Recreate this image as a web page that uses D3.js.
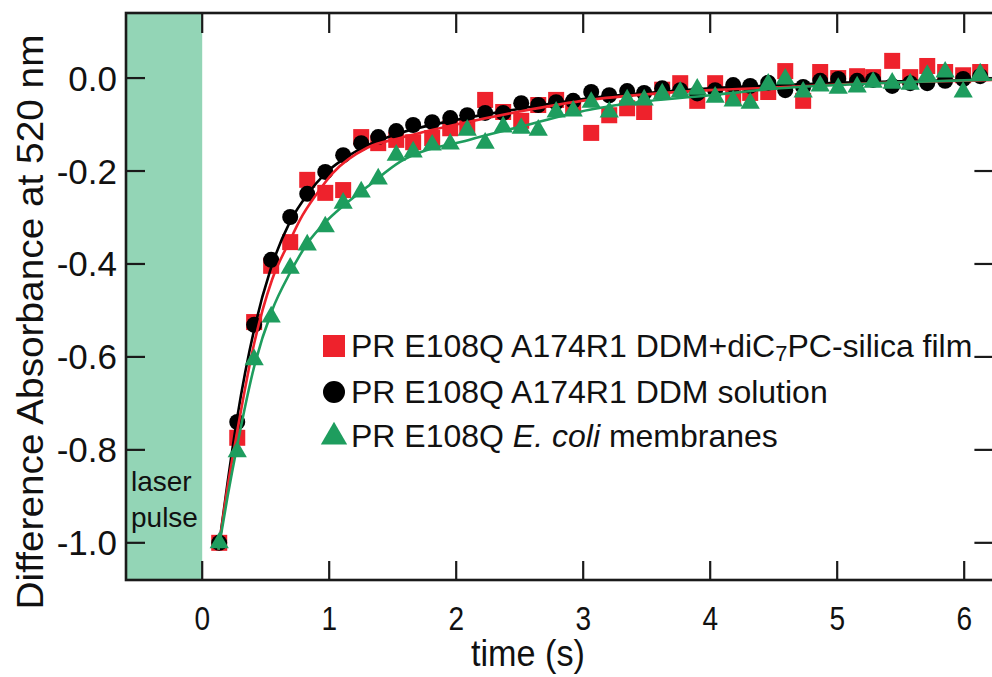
<!DOCTYPE html>
<html><head><meta charset="utf-8">
<script src="https://cdn.jsdelivr.net/npm/d3@7"></script>
<style>html,body{margin:0;padding:0;background:#fff;}svg{display:block;}</style>
</head><body>
<svg id="chart" width="992" height="677"></svg>
<script>
// ---- data ----
const times = [0.134,0.276,0.409,0.543,0.693,0.827,0.969,1.110,1.252,1.386,1.528,1.661,1.811,1.953,2.087,2.228,2.370,2.512,2.646,2.787,2.921,3.063,3.205,3.346,3.480,3.622,3.764,3.898,4.039,4.181,4.315,4.457,4.591,4.732,4.866,5.008,5.157,5.283,5.433,5.575,5.709,5.850,5.992,6.126];
const filmValues = [-1.00,-0.774,-0.525,-0.404,-0.353,-0.219,-0.247,-0.241,-0.127,-0.140,-0.133,-0.138,-0.129,-0.108,-0.105,-0.047,-0.073,-0.092,-0.058,-0.047,-0.062,-0.118,-0.080,-0.065,-0.073,-0.025,-0.011,-0.049,-0.011,-0.041,-0.032,-0.030,0.015,-0.049,0.013,0.000,0.004,0.002,0.037,0.002,0.026,0.013,0.006,0.013];
const solutionValues = [-1.00,-0.740,-0.531,-0.391,-0.299,-0.249,-0.202,-0.166,-0.140,-0.127,-0.114,-0.101,-0.095,-0.086,-0.080,-0.075,-0.075,-0.054,-0.058,-0.052,-0.049,-0.030,-0.037,-0.028,-0.032,-0.022,-0.026,-0.033,-0.026,-0.015,-0.017,-0.010,-0.026,-0.019,-0.006,-0.002,-0.006,-0.004,-0.017,-0.011,-0.011,-0.006,-0.002,0.004];
const membraneValues = [-1.00,-0.804,-0.606,-0.514,-0.409,-0.359,-0.320,-0.269,-0.245,-0.217,-0.166,-0.159,-0.144,-0.142,-0.112,-0.140,-0.105,-0.108,-0.112,-0.073,-0.071,-0.052,-0.073,-0.047,-0.047,-0.034,-0.030,-0.024,-0.041,-0.049,-0.054,-0.013,-0.002,-0.030,-0.017,-0.022,-0.019,-0.009,-0.011,-0.013,0.006,0.013,-0.030,0.009];

// fitted curves
const fitTimesSolution = [0.128,0.2,0.276,0.41,0.54,0.69,0.83,0.97,1.11,1.3,1.56,2.0,2.5,3.0,3.5,4.0,4.5,5.0,5.5,6.25];
const fitSolution      = [-1.015,-0.87,-0.73,-0.54,-0.41,-0.31,-0.25,-0.205,-0.175,-0.145,-0.118,-0.09,-0.066,-0.045,-0.032,-0.022,-0.016,-0.010,-0.007,-0.003];
const fitTimesFilm = [0.128,0.2,0.276,0.41,0.55,0.69,0.77,0.9,1.03,1.3,1.56,2.0,2.5,3.05,3.5,4.0,4.55,5.0,5.5,6.25];
const fitFilm      = [-1.015,-0.88,-0.76,-0.57,-0.434,-0.35,-0.305,-0.25,-0.204,-0.15,-0.129,-0.10,-0.072,-0.047,-0.035,-0.026,-0.020,-0.014,-0.009,-0.004];
const fitTimesMembrane = [0.128,0.2,0.276,0.41,0.55,0.69,0.83,0.97,1.11,1.3,1.56,2.1,2.5,3.05,3.5,4.0,4.55,5.0,5.5,6.25];
const fitMembrane      = [-1.015,-0.90,-0.79,-0.62,-0.50,-0.42,-0.355,-0.31,-0.275,-0.234,-0.18,-0.133,-0.105,-0.068,-0.050,-0.037,-0.022,-0.015,-0.009,-0.003];

const xTicks = [0,1,2,3,4,5,6];
const yTicks = [0.0,-0.2,-0.4,-0.6,-0.8,-1.0];
const pulseStart = -0.6, pulseEnd = 0;

// ---- layout ----
const svg = d3.select("#chart");
const L = 126, R = 993.4, T = 13, B = 580;
const x = d3.scaleLinear().domain([-0.6, 6.23]).range([L, R]);
const y = d3.scaleLinear().domain([-1.08, 0.14]).range([B, T]);
const FONT = "'Liberation Sans', Arial, Helvetica, sans-serif";
const RED = "#ee222c", GREEN = "#1e9d5e", BLACK = "#000";

svg.append("defs").append("clipPath").attr("id","clip")
  .append("rect").attr("x",L).attr("y",T).attr("width",R-L).attr("height",B-T);

// laser pulse band
svg.append("rect").attr("x", x(pulseStart)).attr("y", T)
  .attr("width", x(pulseEnd)-x(pulseStart)).attr("height", B-T)
  .attr("fill", "#93d5b6");

svg.append("text").attr("x",131).attr("y",491).attr("font-family",FONT).attr("font-size",28).attr("fill","#111").text("laser");
svg.append("text").attr("x",131).attr("y",527).attr("font-family",FONT).attr("font-size",28).attr("fill","#111").text("pulse");

// axes ticks (inward on all four sides)
const tickLen = 19;
const axG = svg.append("g").attr("stroke","#1a1a1a").attr("stroke-width",2.2);
xTicks.forEach(t => {
  axG.append("line").attr("x1",x(t)).attr("x2",x(t)).attr("y1",T).attr("y2",T+tickLen+1);
  axG.append("line").attr("x1",x(t)).attr("x2",x(t)).attr("y1",B).attr("y2",B-tickLen);
});
yTicks.forEach(v => {
  axG.append("line").attr("x1",L).attr("x2",L+tickLen).attr("y1",y(v)).attr("y2",y(v));
  axG.append("line").attr("x1",R).attr("x2",R-tickLen).attr("y1",y(v)).attr("y2",y(v));
});
// frame
svg.append("rect").attr("x",L).attr("y",T).attr("width",R-L).attr("height",B-T)
  .attr("fill","none").attr("stroke","#1a1a1a").attr("stroke-width",2.6);

// tick labels
svg.append("g").selectAll("text").data(xTicks).join("text")
  .attr("transform", d => `translate(${x(d)},630) scale(0.85,1)`).attr("text-anchor","middle")
  .attr("font-family",FONT).attr("font-size",33).attr("fill","#111").text(d => d3.format("d")(d));
svg.append("g").selectAll("text").data(yTicks).join("text")
  .attr("x", 117).attr("y", d => y(d)+12.5).attr("text-anchor","end")
  .attr("font-family",FONT).attr("font-size",35).attr("fill","#111").text(d => d3.format(".1f")(d).replace("−","-"));

// axis titles
svg.append("text").attr("transform","translate(528,666) scale(0.95,1)").attr("text-anchor","middle")
  .attr("font-family",FONT).attr("font-size",36).attr("fill","#111").text("time (s)");
svg.append("text").attr("transform","translate(43,322) rotate(-90)").attr("text-anchor","middle")
  .attr("font-family",FONT).attr("font-size",36).attr("fill","#111")
  .attr("textLength",575).attr("lengthAdjust","spacingAndGlyphs")
  .text("Difference Absorbance at 520 nm");

// data
const plot = svg.append("g").attr("clip-path","url(#clip)");
const sq = 16, circR = 8, triSize = 160;
const filmPts = times.map((t,i)=>[t, filmValues[i]]);
const solPts = times.map((t,i)=>[t, solutionValues[i]]);
const memPts = times.map((t,i)=>[t, membraneValues[i]]);

plot.append("g").selectAll("rect").data(filmPts).join("rect")
  .attr("x", d => x(d[0])-sq/2).attr("y", d => y(d[1])-sq/2)
  .attr("width", sq).attr("height", sq).attr("fill", RED);
plot.append("g").selectAll("circle").data(solPts).join("circle")
  .attr("cx", d => x(d[0])).attr("cy", d => y(d[1])).attr("r", circR).attr("fill", BLACK);

const line = d3.line().x(d => x(d[0])).y(d => y(d[1])).curve(d3.curveMonotoneX);
plot.append("path").datum(fitTimesSolution.map((t,i)=>[t, fitSolution[i]]))
  .attr("d", line).attr("fill","none").attr("stroke", BLACK).attr("stroke-width", 2.6);
plot.append("path").datum(fitTimesFilm.map((t,i)=>[t, fitFilm[i]]))
  .attr("d", line).attr("fill","none").attr("stroke", RED).attr("stroke-width", 2.6);

const tri = d3.symbol().type(d3.symbolTriangle).size(triSize);
plot.append("g").selectAll("path").data(memPts).join("path")
  .attr("transform", d => `translate(${x(d[0])},${y(d[1])})`).attr("d", tri).attr("fill", GREEN);
plot.append("path").datum(fitTimesMembrane.map((t,i)=>[t, fitMembrane[i]]))
  .attr("d", line).attr("fill","none").attr("stroke", GREEN).attr("stroke-width", 2.6);

// legend
const leg = svg.append("g").attr("font-family",FONT).attr("font-size",32).attr("fill","#111");
const lx = 334;
leg.append("rect").attr("x",lx-11).attr("y",346-11).attr("width",22).attr("height",22).attr("fill",RED);
leg.append("circle").attr("cx",lx).attr("cy",392).attr("r",11).attr("fill",BLACK);
leg.append("path").attr("transform",`translate(${lx},437)`).attr("d",d3.symbol().type(d3.symbolTriangle).size(300)).attr("fill",GREEN);

const t1 = leg.append("text").attr("x",351).attr("y",357);
t1.append("tspan").text("PR E108Q A174R1 DDM+diC");
t1.append("tspan").attr("font-size",22).attr("dy",4).text("7");
t1.append("tspan").attr("dy",-4).text("PC-silica film");
leg.append("text").attr("x",351).attr("y",403).text("PR E108Q A174R1 DDM solution");
const t3 = leg.append("text").attr("x",351).attr("y",447);
t3.append("tspan").text("PR E108Q ");
t3.append("tspan").attr("font-style","italic").text("E. coli");
t3.append("tspan").text(" membranes");
</script>
</body></html>
